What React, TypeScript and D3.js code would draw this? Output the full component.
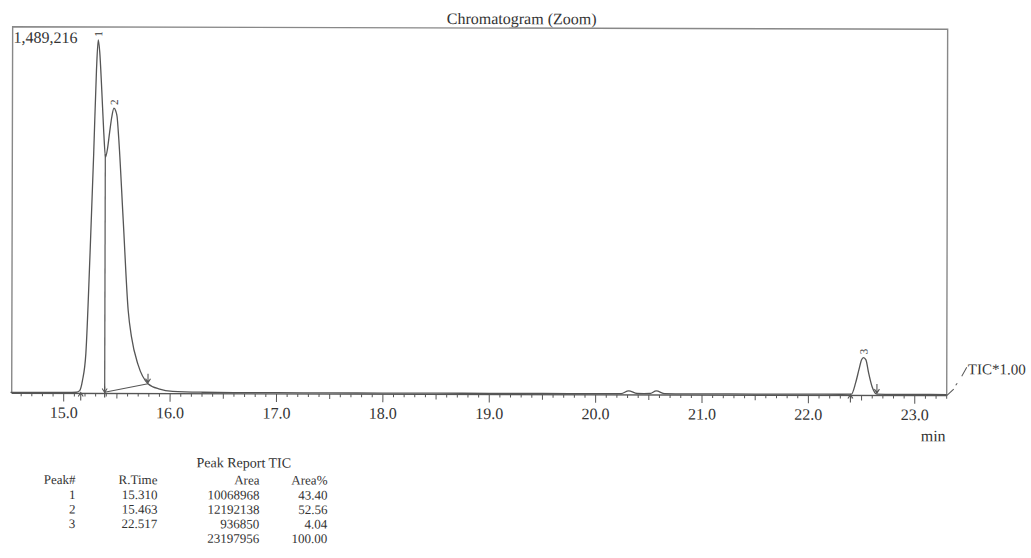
import React from "react";
import * as d3 from "d3";

// ---- data ----
const traceTime = [
  14.5, 14.8, 15.0, 15.12, 15.15, 15.176, 15.207, 15.244, 15.276, 15.3, 15.316,
  15.33, 15.35, 15.37, 15.387, 15.405, 15.425, 15.445, 15.465, 15.482, 15.495,
  15.51, 15.555, 15.604, 15.636, 15.698, 15.792, 15.902, 16.024, 16.3, 16.6,
  17.0, 17.5, 18.0, 18.5, 19.0, 19.5, 20.0, 20.2, 20.24, 20.31, 20.39, 20.45,
  20.51, 20.57, 20.65, 20.75, 21.0, 21.5, 22.0, 22.3, 22.404, 22.444, 22.475,
  22.498, 22.517, 22.54, 22.565, 22.597, 22.644, 22.8, 23.0, 23.3,
];
const traceValue = [
  4000, 4000, 4500, 5000, 12000, 55000, 168000, 590000, 1012000, 1363000, 1489216,
  1440000, 1280000, 1100000, 996000, 1030000, 1100000, 1165000, 1202000, 1190000, 1166000,
  1081000, 730000, 350000, 237500, 122000, 42000, 19000, 10000, 6500, 5500,
  5500, 5000, 5000, 5000, 5000, 5000, 5000, 5000, 5500, 17000, 6000, 5500,
  6000, 17000, 5500, 5000, 5000, 5000, 5000, 5000, 5500, 54000, 110000,
  150000, 160000, 150000, 96000, 39000, 6000, 5000, 5000, 5000,
];

const xTickLabels = [15, 16, 17, 18, 19, 20, 21, 22, 23];

const peakNo = ["1", "2", "3"];
const peakRTime = [15.316, 15.465, 22.517];
const peakApex = [1489216, 1202000, 160000];

const peakStart = [15.16, 22.395];
const dropTime = [15.385];
const peakEnd = [15.792, 22.644];
const skimBaseline = [
  [15.385, 5000],
  [15.792, 42000],
];

const tableHeader = ["Peak#", "R.Time", "Area", "Area%"];
const tablePeak = ["1", "2", "3", ""];
const tableRTime = ["15.310", "15.463", "22.517", ""];
const tableArea = ["10068968", "12192138", "936850", "23197956"];
const tableAreaPct = ["43.40", "52.56", "4.04", "100.00"];

const FONT = "'Liberation Serif', 'Times New Roman', serif";
const TEXT = "#333";
const LINE = "#555";

export default function App() {
  const left = 12,
    right = 947,
    top = 28,
    bottom = 394.5;
  const x = d3.scaleLinear().domain([14.511, 23.3]).range([left, right]);
  const y = d3.scaleLinear().domain([0, 1544000]).range([bottom, top]);

  const line = d3
    .line<number>()
    .x((_, i) => x(traceTime[i]))
    .y((v) => y(v))
    .curve(d3.curveMonotoneX);
  const tracePath = line(traceValue) || "";

  const minorTicks = d3.range(146, 234).map((k) => k / 10);

  const interp = d3.scaleLinear().domain(traceTime).range(traceValue);
  const valueAt = (t: number) => interp(t);

  const downArrow = (px: number, tip: number, len = 9) =>
    `M${px},${tip - len}L${px},${tip}M${px - 2.5},${tip - 4}L${px},${tip}L${px + 2.5},${tip - 4}`;
  const upArrow = (px: number, tip: number, len = 8) =>
    `M${px},${tip + len}L${px},${tip}M${px - 2.5},${tip + 4}L${px},${tip}L${px + 2.5},${tip + 4}`;

  const colRight = [76, 158, 260, 328];
  const rowY = [500, 514.5, 529, 543.5];

  return (
    <svg
      width={1031}
      height={558}
      style={{ position: "absolute", left: 0, top: 0, background: "#fff" }}
      fontFamily={FONT}
    >
      <rect x={0} y={0} width={1031} height={558} fill="#fff" />
      <g transform="rotate(0.15 480 280)">
        {/* title */}
        <text x={521} y={24} textAnchor="middle" fontSize={16} fill={TEXT}>
          Chromatogram (Zoom)
        </text>
        {/* frame */}
        <path
          d={`M${left},${bottom}L${left},${top}L${right},${top}L${right},${bottom}`}
          fill="none"
          stroke="#888"
          strokeWidth={1.4}
        />
        <line x1={left} x2={right} y1={bottom} y2={bottom} stroke={LINE} strokeWidth={1.3} />
        {/* ticks */}
        {minorTicks.map((t) => {
          const k = Math.round(t * 10) % 10;
          const len = k === 0 ? 8 : k === 5 ? 5 : 3;
          return (
            <line
              key={t}
              x1={x(t)}
              x2={x(t)}
              y1={bottom}
              y2={bottom + len}
              stroke={LINE}
              strokeWidth={1}
            />
          );
        })}
        {xTickLabels.map((t) => (
          <text key={t} x={x(t)} y={419} textAnchor="middle" fontSize={16} fill={TEXT}>
            {d3.format(".1f")(t)}
          </text>
        ))}
        <text x={946} y={440} textAnchor="end" fontSize={16} fill={TEXT}>
          min
        </text>
        {/* TIC leader */}
        <path d={`M${right},${bottom}L${954},${388}`} stroke={LINE} strokeWidth={1} fill="none" />
        <path d={`M956,384L957.5,382`} stroke={LINE} strokeWidth={1} fill="none" />
        <path d={`M962,375L967,366`} stroke={LINE} strokeWidth={1} fill="none" />
        <text x={968} y={373} fontSize={15} textLength={58} lengthAdjust="spacingAndGlyphs" fill={TEXT}>
          TIC*1.00
        </text>
        {/* max intensity label */}
        <text x={13} y={44} fontSize={16} fill={TEXT}>
          {d3.format(",")(1489216)}
        </text>
        {/* trace */}
        <path d={tracePath} fill="none" stroke={LINE} strokeWidth={1.3} />
        {/* integration marks */}
        <path
          d={d3.line()(skimBaseline.map(([t, v]) => [x(t), y(v)]) as [number, number][]) || ""}
          fill="none"
          stroke={LINE}
          strokeWidth={1}
        />
        {dropTime.map((t) => (
          <g key={t}>
            <line x1={x(t)} x2={x(t)} y1={y(valueAt(t))} y2={bottom + 4} stroke={LINE} strokeWidth={1.2} />
            <path d={downArrow(x(t), bottom - 1, 6)} fill="none" stroke={LINE} strokeWidth={1} />
          </g>
        ))}
        {peakStart.map((t) => (
          <path key={t} d={upArrow(x(t), bottom - 1, 8)} fill="none" stroke={LINE} strokeWidth={1.1} />
        ))}
        {peakEnd.map((t) => (
          <path key={t} d={downArrow(x(t), y(valueAt(t)) - 1, 9)} fill="none" stroke={LINE} strokeWidth={1.1} />
        ))}
        {/* peak numbers */}
        {peakNo.map((p, i) => (
          <text
            key={p}
            transform={`translate(${x(peakRTime[i])},${y(peakApex[i]) - 6}) rotate(-90)`}
            textAnchor="middle"
            dominantBaseline="central"
            fontSize={11}
            fill={TEXT}
          >
            {p}
          </text>
        ))}
        {/* peak report table */}
        <text x={197} y={468} fontSize={14} fill={TEXT}>
          Peak Report TIC
        </text>
        {tableHeader.map((h, i) => (
          <text key={h} x={colRight[i]} y={485} textAnchor="end" fontSize={13} fill={TEXT}>
            {h}
          </text>
        ))}
        {rowY.map((ry, r) => (
          <g key={r}>
            {[tablePeak[r], tableRTime[r], tableArea[r], tableAreaPct[r]].map((v, c) =>
              v ? (
                <text key={c} x={colRight[c]} y={ry} textAnchor="end" fontSize={13} fill={TEXT}>
                  {v}
                </text>
              ) : null
            )}
          </g>
        ))}
      </g>
    </svg>
  );
}
